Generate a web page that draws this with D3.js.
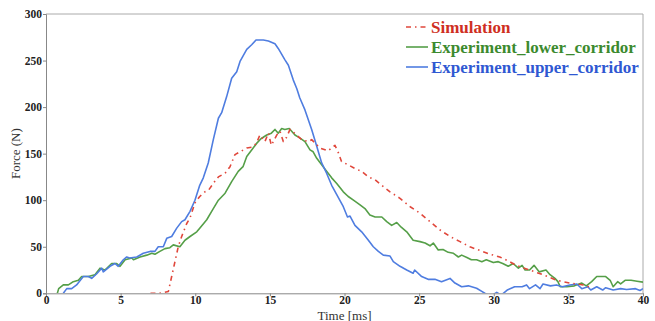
<!DOCTYPE html>
<html><head><meta charset="utf-8">
<script src="https://cdn.jsdelivr.net/npm/d3@7"></script>
<style>body{margin:0;background:#fff}svg{display:block}</style>
</head><body>
<script>
const xTicks = [0,5,10,15,20,25,30,35,40];
const yTicks = [0,50,100,150,200,250,300];
const seriesNames = ["Simulation","Experiment_lower_corridor","Experiment_upper_corridor"];

const simT = [7.0,7.6,8.2,8.42,8.64,8.86,9.09,9.43,9.65,9.98,10.3,10.65,10.9,11.3,11.55,12.0,12.33,12.66,13.0,13.45,13.78,14.1,14.33,14.67,14.9,15.1,15.46,15.68,15.9,16.1,16.35,16.79,17.13,17.57,17.8,18.36,18.9,19.36,19.6,19.8,20.25,20.7,21.15,21.6,22.04,22.5,23.05,23.72,24.4,25.06,25.73,26.4,27.07,27.74,28.4,29.07,29.75,30.4,31.07,31.5,32.4,33.3,34.2,35.1,36.0,36.45];
const simF = [0,0,2,18,34,50,61,75,81,97,104,109,111,120,125,129,136,149,152,156,157,161,170,163,172,159,170,174,163,167,176,170,165,163,165,156,153,159,150.5,141.5,138,134,131,125,122,116,109,102,93,86,77,68,61,55.5,50,46,42,39,34,30,25,20,14,11,9,6.5];

const lowT = [0.76,0.85,1.16,1.5,1.83,2.17,2.39,2.84,3.28,3.62,3.95,4.4,4.74,4.96,5.3,5.75,5.86,6.3,6.75,7.09,7.3,7.63,7.97,8.3,8.53,8.97,9.31,9.65,10.1,10.3,10.77,11.1,11.55,12.0,12.44,12.88,13.2,13.45,13.78,14.11,14.4,14.79,15.1,15.34,15.56,15.79,16.0,16.3,16.68,17.0,17.35,17.69,17.9,18.14,18.47,18.8,19.14,19.48,19.92,20.25,20.6,21.04,21.37,21.7,22.05,22.5,22.83,23.16,23.5,23.8,24.17,24.6,25.06,25.4,25.73,25.95,26.28,26.6,26.95,27.3,27.63,27.85,28.2,28.5,28.85,29.2,29.5,29.97,30.3,30.6,30.97,31.3,31.65,31.9,32.1,32.4,32.7,33.05,33.5,33.77,34.1,34.3,34.45,34.9,35.4,35.9,36.2,36.56,36.9,37.5,37.8,38.0,38.3,38.5,38.8,39.2,39.6,40];
const lowF = [0,5,9,9,12.5,14,18,18,20,27,25,32,32,29,36,38,36,39,41,43,42,45,48,49,52,50,57,61,66,70,79,88,100,107.5,120,131,136,147,154,161,166,170,172,176,172,177,176,177,170,167,163,154,152,145,138,131,124,118,109,104,100,95,91,84,82,82,77,73,76,71,66,57,55.5,54,51,54,46.6,47,44,43,39,41,38.5,36,36,34,36,33,34,32,29,32,27,30,25,25,30,23,25,20,16,12.5,7,7,8,11,8,12.5,18,18,14,7,12.5,10,14,14,13,12];

const upT = [1.16,1.39,1.72,2.05,2.5,2.84,3.06,3.4,3.73,3.84,4.29,4.62,4.84,5.18,5.41,5.6,6.08,6.52,6.97,7.3,7.52,7.86,8.09,8.42,8.76,9.09,9.31,9.65,9.98,10.3,10.54,10.87,11.21,11.55,11.77,12.1,12.44,12.78,13.0,13.45,13.78,14.07,14.56,14.9,15.34,15.56,16.0,16.24,16.57,16.8,17.0,17.35,17.8,18.14,18.47,18.8,19.14,19.48,19.92,20.2,20.37,20.7,21.15,21.6,21.93,22.27,22.6,23.05,23.27,23.72,24.17,24.6,24.7,25.17,25.6,26.06,26.5,27.07,27.4,27.85,28.3,28.85,29.2,29.4,29.8,30.2,30.5,30.9,31.4,31.9,32.2,32.4,32.8,33.1,33.3,33.8,34.2,34.6,35.1,35.56,35.9,36.3,36.5,36.9,37.3,37.5,38.0,38.5,38.9,39.5,39.8,40];
const upF = [0,5,5,9,18,18,16,21,27,23,29,32,29,36,39,38,39,43,45,45,50,50,59,61,70,77,79,88,100,116,124,140,165,188,194,211,231,238,249,262,267,272,272,271,268,263,251,245,229,220,210,197,176,158,140,129,116,106,93,82,83,73,66,57,50,45,41,40,34,29,25,21.5,25,18,15,15,12.5,16,11,7,8,5.4,2,0,-3,1,-2,3.5,7,7,9,5,9,5,10,8,9,7,9,10,5,7,3.5,7,3.5,6,3.5,5,4,5,3,5];

const W = 655, H = 321;
const m = {l:46, r:12, t:14, b:27.7};
const svg = d3.select("body").append("svg").attr("width",W).attr("height",H);
const x = d3.scaleLinear().domain([0,40]).range([m.l, W-m.r]);
const y = d3.scaleLinear().domain([0,300]).range([H-m.b, m.t]);

svg.append("defs").append("clipPath").attr("id","clip").append("rect")
  .attr("x",m.l).attr("y",m.t).attr("width",W-m.r-m.l).attr("height",H-m.b-m.t);

// frame top & right
svg.append("line").attr("x1",m.l).attr("x2",W-m.r).attr("y1",m.t).attr("y2",m.t).attr("stroke","#aaa");
svg.append("line").attr("x1",W-m.r).attr("x2",W-m.r).attr("y1",m.t).attr("y2",H-m.b).attr("stroke","#aaa");

const lineColors = ["#e0473b","#559f48","#4f7de0"];
const textColors = ["#cf2e22","#3c8a2e","#2f58d2"];
const dashes = ["5,4,1.5,4", null, null];
const data = [
  d3.zip(simT, simF), d3.zip(lowT, lowF), d3.zip(upT, upF)
];
const line = d3.line().x(d=>x(d[0])).y(d=>y(d[1]));
const g = svg.append("g").attr("clip-path","url(#clip)");
[1,2,0].forEach(i=>{
  g.append("path").datum(data[i]).attr("d",line).attr("fill","none")
   .attr("stroke",lineColors[i]).attr("stroke-width",1.6)
   .attr("stroke-linejoin","round")
   .attr("stroke-dasharray",dashes[i]);
});

const xAx = svg.append("g").attr("transform",`translate(0,${H-m.b})`)
  .call(d3.axisBottom(x).tickValues(xTicks).tickSize(3).tickPadding(0).tickFormat(d3.format("d")));
const yAx = svg.append("g").attr("transform",`translate(${m.l},0)`)
  .call(d3.axisLeft(y).tickValues(yTicks).tickSize(3).tickPadding(1).tickFormat(d3.format("d")));
[xAx,yAx].forEach(a=>{
  a.select(".domain").attr("stroke","#888");
  a.selectAll(".tick line").attr("stroke","#888");
  a.selectAll("text").attr("font-family","'Liberation Serif', serif").attr("font-weight","bold")
   .attr("font-size",11.5).attr("fill","#222");
});

svg.append("text").attr("x",(m.l+W-m.r)/2).attr("y",319.5).attr("text-anchor","middle")
  .attr("font-family","'Liberation Serif', serif").attr("font-size",13).attr("fill","#333").text("Time [ms]");
svg.append("text").attr("transform",`translate(20,${(m.t+H-m.b)/2}) rotate(-90)`).attr("text-anchor","middle")
  .attr("font-family","'Liberation Serif', serif").attr("font-size",13).attr("fill","#333").text("Force (N)");

const leg = svg.append("g");
seriesNames.forEach((n,i)=>{
  const cy = 27 + i*20;
  leg.append("line").attr("x1",406).attr("x2",428).attr("y1",cy).attr("y2",cy)
    .attr("stroke",lineColors[i]).attr("stroke-width",1.6).attr("stroke-dasharray",dashes[i]);
  leg.append("text").attr("x",431).attr("y",cy+5.5)
    .attr("font-family","'Liberation Serif', serif").attr("font-weight","bold").attr("font-size",17)
    .attr("fill",textColors[i]).text(n);
});
</script>
</body></html>
